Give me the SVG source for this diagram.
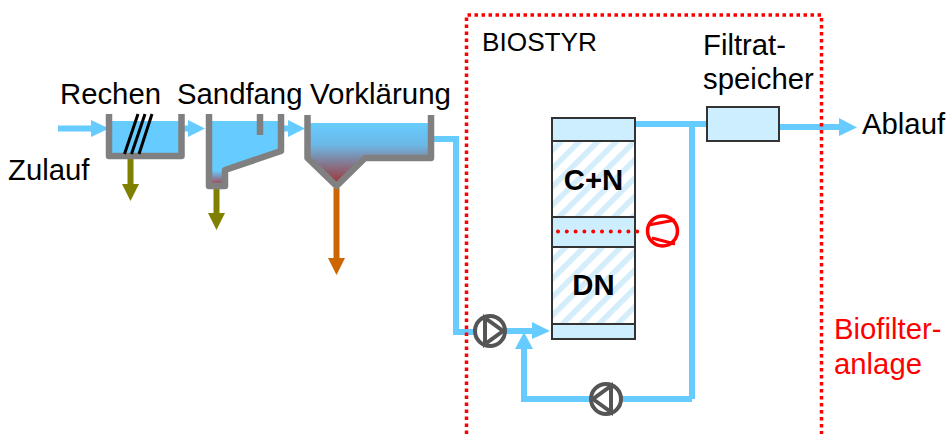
<svg xmlns="http://www.w3.org/2000/svg" width="948" height="434" viewBox="0 0 948 434">
<style>
text{font-family:"Liberation Sans",Arial,sans-serif;font-size:29.300px;fill:#000}
.b{font-weight:bold}
.wall{fill:none;stroke:#808080;stroke-width:6.5;stroke-linejoin:round}
.pipe{fill:none;stroke:#66ccff;stroke-width:6}
.red{fill:none;stroke:#ff0000;stroke-width:3.5;stroke-dasharray:3.5 3.5}
.tank{fill:#cceeff;stroke:#333;stroke-width:2}
.hatch{fill:url(#h);stroke:#333;stroke-width:2}
.pump{fill:#fff;stroke:#555;stroke-width:4}
.pl{fill:none;stroke:#555;stroke-width:4}
</style>
<defs>
<pattern id="h" width="13" height="13" patternUnits="userSpaceOnUse" patternTransform="rotate(-45)">
<rect width="13" height="13" fill="#fff"/><rect y="0" width="13" height="5.500" fill="#d3edfb"/>
</pattern>
<linearGradient id="g1" x1="0" y1="0" x2="0" y2="1"><stop offset="0" stop-color="#66ccff"/><stop offset=".8" stop-color="#66ccff"/><stop offset="1" stop-color="#a05060"/></linearGradient>
<linearGradient id="g2" x1="0" y1="0" x2="0" y2="1"><stop offset="0" stop-color="#66ccff"/><stop offset=".35" stop-color="#6cb8e6"/><stop offset="1" stop-color="#a03030"/></linearGradient>
</defs>
<g id="connectors">
<path class="pipe" d="M58 128.500H95"/><path fill="#66ccff" d="M91 120L109 128.500L91 137Z"/>
<path class="pipe" d="M182 128.500H192"/><path fill="#66ccff" d="M188 120L205 128.500L188 137Z"/>
<path class="pipe" d="M282 128.500H292"/><path fill="#66ccff" d="M288 120L305 128.500L288 137Z"/>
<path class="pipe" d="M434 139H456V332H476"/>
<path class="pipe" d="M506 331H536"/><path fill="#66ccff" d="M532 322L550 331L532 339Z"/>
<path class="pipe" d="M524 345V399H692"/><path fill="#66ccff" d="M515 349L524 332L533 349Z"/>
<path class="pipe" d="M633 124H692V399"/><path class="pipe" d="M692 124H706"/>
<path class="pipe" d="M780 127H840"/><path fill="#66ccff" d="M839 118L857 127.500L839 136Z"/>
<path fill="none" stroke="#808000" stroke-width="6" d="M130.500 157V190"/><path fill="#808000" d="M122 184H139L130.500 201Z"/>
<path fill="none" stroke="#808000" stroke-width="6" d="M216.500 187V220"/><path fill="#808000" d="M208 213H225L216.500 230Z"/>
<path fill="none" stroke="#cc6600" stroke-width="6" d="M336.500 188V262"/><path fill="#cc6600" d="M328 258H345L336.500 275Z"/>
</g>
<g id="rechen">
<rect x="109" y="121" width="73" height="33" fill="#66ccff"/>
<path class="wall" d="M109 114V156H181.500V114"/>
<path fill="none" stroke="#000" stroke-width="3" d="M124.500 154L138 114M131.500 154L145 114M139 154L152 114"/>
<text x="60" y="104">Rechen</text>
</g>
<g id="sandfang">
<path fill="url(#g1)" d="M209 121H281V149L224 168V183H209Z"/>
<path class="wall" d="M209 114V186H225V170L281 151V114"/>
<path class="wall" d="M260 114V135"/>
<text x="177" y="104">Sandfang</text>
</g>
<g id="vorklaerung">
<path fill="url(#g2)" d="M308 123H430V155H364L337 185L308 158Z"/>
<path class="wall" d="M307.500 115V158L336.500 186L365 158H431V115"/>
<text x="310" y="104" textLength="141" lengthAdjust="spacingAndGlyphs">Vorklärung</text>
</g>
<g id="biostyr">
<rect class="tank" x="552" y="118" width="83" height="23"/>
<rect class="hatch" x="552" y="141" width="83" height="76"/>
<rect class="tank" x="552" y="217" width="83" height="30"/>
<rect class="hatch" x="552" y="247" width="83" height="77"/>
<rect class="tank" x="552" y="324" width="83" height="15"/>
<text class="b" x="593.500" y="190" text-anchor="middle">C+N</text>
<text class="b" x="593.500" y="295" text-anchor="middle">DN</text>
<text x="482" y="51" style="font-size:26px" textLength="115" lengthAdjust="spacingAndGlyphs">BIOSTYR</text>
</g>
<g id="speicher">
<rect class="tank" x="707" y="107" width="72" height="34"/>
<text x="703" y="55">Filtrat-</text>
<text x="703" y="89">speicher</text>
</g>
<g id="belueftung">
<path fill="none" stroke="#f00" stroke-width="4" stroke-linecap="round" stroke-dasharray="0 8.800" d="M558 231.500H640"/>
<circle cx="662.500" cy="231" r="15" fill="#fff" stroke="#f00" stroke-width="3.500"/>
<path fill="none" stroke="#f00" stroke-width="3" d="M648.500 225L675 220M652 238L675 244"/>
</g>
<g id="pumpe1"><circle class="pump" cx="490" cy="331" r="15"/><path class="pl" d="M485 318V344L503 331Z"/></g>
<g id="pumpe2"><circle class="pump" cx="606" cy="399" r="15"/><path class="pl" d="M611 386V412L593 399Z"/></g>
<g id="rahmen"><path class="red" d="M466.500 434V15H821.500V434"/></g>
<g id="labels">
<text x="8" y="180">Zulauf</text>
<text x="862" y="134">Ablauf</text>
<text x="834" y="339" style="fill:#f00">Biofilter-</text>
<text x="834" y="374" style="fill:#f00">anlage</text>
</g>
</svg>
